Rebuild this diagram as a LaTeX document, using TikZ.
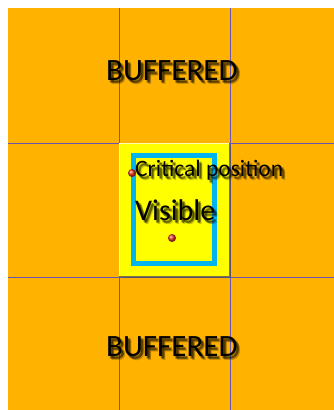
\documentclass[tikz,border=0pt]{standalone}
\usepackage{fontspec}
\setmainfont{Carlito}
\usetikzlibrary{shadows}
\definecolor{bgorange}{HTML}{FFB300}
\definecolor{gridline}{HTML}{6A55B0}
\definecolor{boxyellow}{HTML}{FFFF00}
\definecolor{frameblue}{HTML}{00B4F0}
\definecolor{dotred}{HTML}{E03020}
\tikzset{
  gridln/.style={draw=gridline, line width=0.8pt},
  lbl/.style={inner sep=0pt, text=black},
  shd/.style={inner sep=0pt, text=black, opacity=0.22},
  dot/.style={circle, inner sep=0pt, minimum size=8pt, ball color=dotred},
}
\newcommand{\shadowlabel}[5]{%
  \foreach \dx/\dy in {1.5/2, 2.5/3, 3.5/4, 2/3.5, 3/2.5}{
    \node[shd, anchor=base west, font=\fontsize{#3}{#3}\selectfont] at ([xshift=\dx pt, yshift=-\dy pt]#1) {#4};
  }
  \node[lbl, anchor=base west, font=\fontsize{#3}{#3}\selectfont] (#5) at (#1) {#4};
}
\begin{document}
\begin{tikzpicture}[x=1pt, y=-1pt]
  \useasboundingbox (0,0) rectangle (334,410);
  \fill[white] (0,0) rectangle (334,410);
  \fill[bgorange] (8,8) rectangle (334,410);
  \draw[gridln] (119,8) -- (119,410);
  \draw[gridln] (230,8) -- (230,410);
  \draw[gridln] (8,143) -- (334,143);
  \draw[gridln] (8,277) -- (334,277);
  % visible box
  \fill[black!70, opacity=0.6] (122,146) rectangle (231,278);
  \node[fill=boxyellow, draw=none, inner sep=0pt, minimum width=109pt, minimum height=132pt] (box) at (174.5,210) {};
  \draw[white!70!yellow, line width=1pt] (box.south west) -- (box.north west) -- (box.north east);
  \draw[black!60!yellow, line width=1pt] (box.south west) -- (box.south east) -- (box.north east);
  \node[draw=frameblue, line width=5pt, inner sep=0pt, minimum width=81pt, minimum height=108pt] (frame) at (174,209.5) {};
  % texts
  \coordinate (t1) at (106,80);
  \shadowlabel{t1}{w}{31}{BUFFERED}{buftop}
  \coordinate (t2) at (106,356);
  \shadowlabel{t2}{w}{31}{BUFFERED}{bufbot}
  \coordinate (t3) at (135,176);
  \shadowlabel{t3}{w}{23.5}{Critical position}{crit}
  \coordinate (t4) at (135,220);
  \shadowlabel{t4}{w}{30}{Visible}{vis}
  \node[dot] (d1) at (132,173) {};
  \node[dot] (d2) at (172,238) {};
\end{tikzpicture}
\end{document}
